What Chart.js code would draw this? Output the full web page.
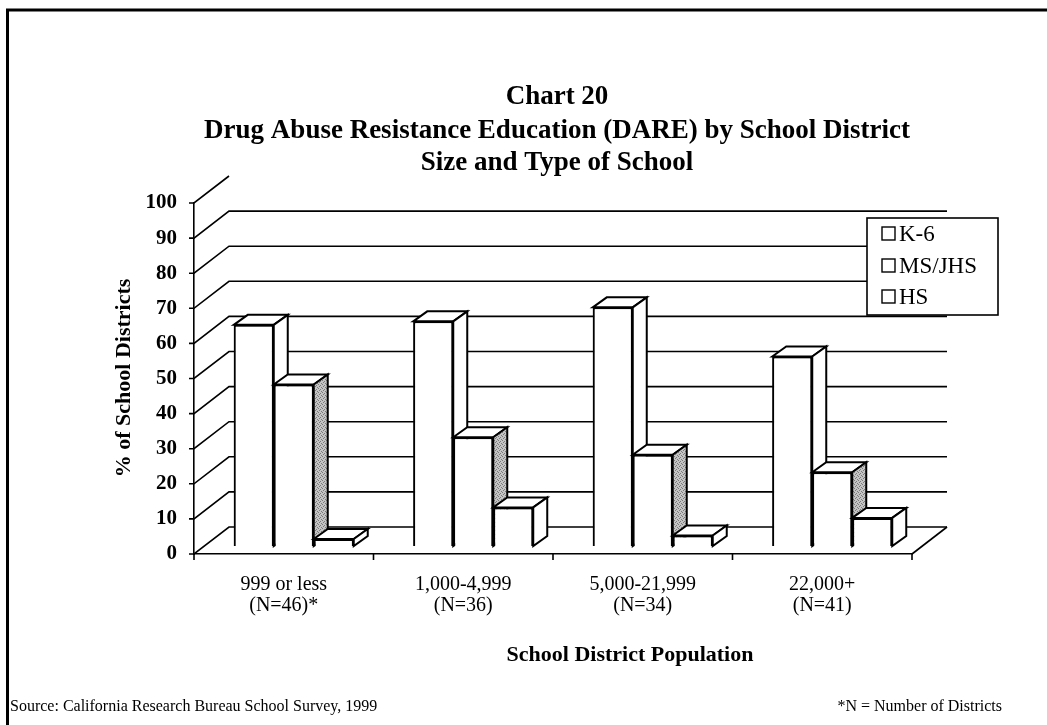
<!DOCTYPE html>
<html>
<head>
<meta charset="utf-8">
<script src="https://cdn.jsdelivr.net/npm/chart.js@4.4.0/dist/chart.umd.min.js"></script>
<style>
  html, body { margin: 0; padding: 0; background: #fff; }
  #wrap { position: relative; width: 1047px; height: 725px; }
</style>
</head>
<body>
<div id="wrap"><canvas id="dareChart" width="1047" height="725"></canvas></div>
<script>
// --- 1. DATA ---
const categories = [
    ['999 or less', '(N=46)*'],
    ['1,000-4,999', '(N=36)'],
    ['5,000-21,999', '(N=34)'],
    ['22,000+', '(N=41)']
];
const seriesNames = ['K-6', 'MS/JHS', 'HS'];
const k6Values = [63, 64, 68, 54];
const msjhsValues = [46, 31, 26, 21];
const hsValues = [2, 11, 3, 8];
const yTickValues = [0, 10, 20, 30, 40, 50, 60, 70, 80, 90, 100];

const titleLines = ['Chart 20', 'Drug Abuse Resistance Education (DARE) by School District', 'Size and Type of School'];
const yTitle = '% of School Districts';
const xTitle = 'School District Population';
const sourceNote = 'Source: California Research Bureau School Survey, 1999';
const nNote = '*N = Number of Districts';

// --- 2. LOOK ---
const SERIF = '"Liberation Serif", "Times New Roman", serif';
const WALL = { dx: 35, dy: -27 };   // depth of the floor / back wall
const BAR_POS = { dx: 10, dy: -8 }; // where bar fronts sit inside the depth
const BAR_D = { dx: 14, dy: -10 };  // bar thickness

// grey stipple used on the MS/JHS side faces
function makeStipple() {
    const c = document.createElement('canvas');
    c.width = 4; c.height = 4;
    const g = c.getContext('2d');
    g.fillStyle = '#c4c4c4';
    g.fillRect(0, 0, 4, 4);
    g.fillStyle = '#7a7a7a';
    [[0, 0], [2, 1], [1, 2], [3, 3]].forEach(p => g.fillRect(p[0], p[1], 1, 1));
    return c;
}

// --- 3. 3D PLUGIN ---
const depthPlugin = {
    id: 'depth3d',
    beforeDatasetsDraw(chart) {
        const { ctx, chartArea: a, scales: { y } } = chart;
        ctx.save();
        ctx.strokeStyle = '#000';
        ctx.lineWidth = 1.6;
        // back wall grid lines + diagonals from each tick
        yTickValues.forEach(v => {
            const py = y.getPixelForValue(v);
            ctx.beginPath();
            ctx.moveTo(a.left - 5, py);
            ctx.lineTo(a.left, py);
            ctx.lineTo(a.left + WALL.dx, py + WALL.dy);
            if (v < 100) ctx.lineTo(a.right + WALL.dx, py + WALL.dy);
            ctx.stroke();
        });
        // floor right edge
        ctx.beginPath();
        ctx.moveTo(a.right, a.bottom);
        ctx.lineTo(a.right + WALL.dx, a.bottom + WALL.dy);
        ctx.stroke();
        // category separators under the floor
        const step = (a.right - a.left) / categories.length;
        for (let i = 0; i <= categories.length; i++) {
            const px = a.left + i * step;
            ctx.beginPath();
            ctx.moveTo(px, a.bottom);
            ctx.lineTo(px, a.bottom + 6);
            ctx.stroke();
        }
        ctx.restore();

        ctx.save();
        ctx.translate(BAR_POS.dx, BAR_POS.dy);
    },
    afterDatasetsDraw(chart) {
        // Chart.js paints the last dataset first; repaint front to back
        // (K-6, MS/JHS, HS) so every box hides the one behind it.
        const ctx = chart.ctx;
        const pattern = ctx.createPattern(makeStipple(), 'repeat');
        chart.data.datasets.forEach((ds, di) => {
            const meta = chart.getDatasetMeta(di);
            meta.data.forEach(el => {
                el.draw(ctx, chart.chartArea);
                const { x, y, base, width } = el.getProps(['x', 'y', 'base', 'width'], true);
                const l = x - width / 2, r = x + width / 2;
                ctx.save();
                ctx.strokeStyle = '#000';
                ctx.lineWidth = 2;
                // top face
                ctx.beginPath();
                ctx.moveTo(l, y);
                ctx.lineTo(l + BAR_D.dx, y + BAR_D.dy);
                ctx.lineTo(r + BAR_D.dx, y + BAR_D.dy);
                ctx.lineTo(r, y);
                ctx.closePath();
                ctx.fillStyle = '#fff';
                ctx.fill();
                ctx.stroke();
                // side face
                ctx.beginPath();
                ctx.moveTo(r, y);
                ctx.lineTo(r + BAR_D.dx, y + BAR_D.dy);
                ctx.lineTo(r + BAR_D.dx, base + BAR_D.dy);
                ctx.lineTo(r, base);
                ctx.closePath();
                ctx.fillStyle = di === 1 ? pattern : '#fff';
                ctx.fill();
                ctx.stroke();
                ctx.restore();
            });
        });
        ctx.restore();
    },
    afterDraw(chart) {
        const { ctx } = chart;
        ctx.save();
        ctx.fillStyle = '#000';
        ctx.strokeStyle = '#000';

        // frame
        ctx.lineWidth = 3;
        ctx.beginPath();
        ctx.moveTo(7.5, 725);
        ctx.lineTo(7.5, 10);
        ctx.lineTo(1047, 10);
        ctx.stroke();

        // title
        ctx.textAlign = 'center';
        ctx.textBaseline = 'middle';
        ctx.font = 'bold 27px ' + SERIF;
        [97, 131, 163].forEach((ty, i) => ctx.fillText(titleLines[i], 557, ty));

        // axis titles
        ctx.font = 'bold 22px ' + SERIF;
        ctx.fillText(xTitle, 630, 655);
        ctx.save();
        ctx.translate(124, 378);
        ctx.rotate(-Math.PI / 2);
        ctx.fillText(yTitle, 0, 0);
        ctx.restore();

        // notes
        ctx.font = '16px ' + SERIF;
        ctx.textAlign = 'left';
        ctx.fillText(sourceNote, 10, 707);
        ctx.textAlign = 'right';
        ctx.fillText(nNote, 1002, 707);

        // legend
        const lx = 867, ly = 218, lw = 131, lh = 97;
        ctx.fillStyle = '#fff';
        ctx.fillRect(lx, ly, lw, lh);
        ctx.lineWidth = 1.6;
        ctx.strokeRect(lx, ly, lw, lh);
        ctx.font = '23px ' + SERIF;
        ctx.textAlign = 'left';
        [234, 266, 297].forEach((ty, i) => {
            ctx.fillStyle = '#fff';
            ctx.fillRect(882, ty - 7, 13, 13);
            ctx.lineWidth = 1.4;
            ctx.strokeRect(882, ty - 7, 13, 13);
            ctx.fillStyle = '#000';
            ctx.fillText(seriesNames[i], 899, ty + 1);
        });
        ctx.restore();
    }
};

// --- 4. CHART ---
Chart.defaults.color = '#000';
Chart.defaults.font.family = SERIF;

const barStyle = {
    backgroundColor: '#fff',
    borderColor: '#000',
    borderWidth: 2,
    categoryPercentage: 0.6685,
    barPercentage: 1.0
};

new Chart(document.getElementById('dareChart'), {
    type: 'bar',
    data: {
        labels: categories,
        datasets: [
            { label: seriesNames[0], data: k6Values, ...barStyle },
            { label: seriesNames[1], data: msjhsValues, ...barStyle },
            { label: seriesNames[2], data: hsValues, ...barStyle }
        ]
    },
    options: {
        responsive: false,
        animation: false,
        layout: { padding: { top: 203, right: 135, left: 0, bottom: 0 } },
        plugins: {
            legend: { display: false },
            title: { display: false },
            tooltip: { enabled: false }
        },
        scales: {
            x: {
                grid: { display: false },
                border: { display: true, color: '#000', width: 1.6 },
                ticks: { font: { size: 20, lineHeight: 1.05 }, padding: 12, maxRotation: 0, autoSkip: false },
                afterFit: s => { s.height = 171; }
            },
            y: {
                min: 0,
                max: 100,
                grid: { display: false },
                border: { display: true, color: '#000', width: 1.6 },
                ticks: { stepSize: 10, font: { size: 21, weight: 'bold' }, padding: 9 },
                afterFit: s => { s.width = 194; }
            }
        }
    },
    plugins: [depthPlugin]
});
</script>
</body>
</html>
